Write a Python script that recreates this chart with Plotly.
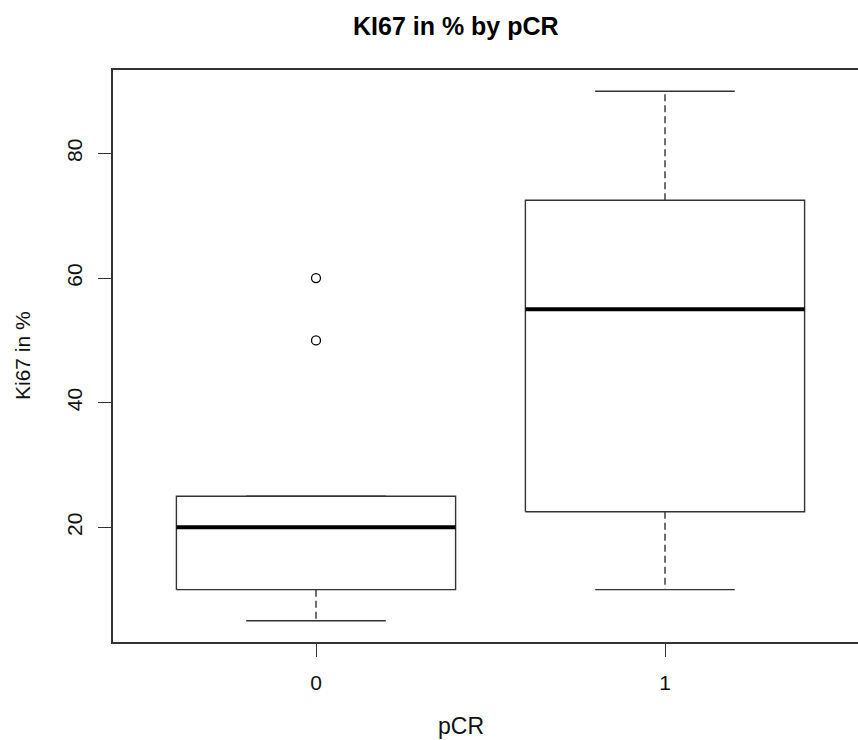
import plotly.graph_objects as go

# ---- data ----
groups = ["0", "1"]
positions = [1, 2]
lower_whisker = [5, 10]
q1 = [10, 22.5]
median = [20, 55]
q3 = [25, 72.5]
upper_whisker = [25, 90]
outlier_group = [1, 1]
outlier_values = [50, 60]
y_ticks = [20, 40, 60, 80]

BOX_HALF = 0.4
CAP_HALF = 0.2
LINE_COL = "#333333"

fig = go.Figure()

for i, c in enumerate(positions):
    # box
    fig.add_trace(go.Scatter(
        x=[c - BOX_HALF, c + BOX_HALF, c + BOX_HALF, c - BOX_HALF, c - BOX_HALF],
        y=[q1[i], q1[i], q3[i], q3[i], q1[i]],
        mode="lines", line=dict(color=LINE_COL, width=1.4),
        hoverinfo="skip", showlegend=False))
    # median
    fig.add_trace(go.Scatter(
        x=[c - BOX_HALF, c + BOX_HALF], y=[median[i], median[i]],
        mode="lines", line=dict(color="black", width=4),
        hoverinfo="skip", showlegend=False))
    # whiskers (dashed)
    for a, b in ((q1[i], lower_whisker[i]), (q3[i], upper_whisker[i])):
        fig.add_trace(go.Scatter(
            x=[c, c], y=[a, b], mode="lines",
            line=dict(color=LINE_COL, width=1.4, dash="7px,4px"),
            hoverinfo="skip", showlegend=False))
    # caps
    for v in (lower_whisker[i], upper_whisker[i]):
        fig.add_trace(go.Scatter(
            x=[c - CAP_HALF, c + CAP_HALF], y=[v, v], mode="lines",
            line=dict(color=LINE_COL, width=1.4),
            hoverinfo="skip", showlegend=False))

# outliers
fig.add_trace(go.Scatter(
    x=outlier_group, y=outlier_values, mode="markers",
    marker=dict(symbol="circle-open", size=9, color="black", line=dict(width=1.3)),
    hoverinfo="skip", showlegend=False))

PLOT_L, PLOT_T, PLOT_B = 113, 70, 642
W, H = 858, 740
px_per_unit = 349.0
x0 = 1 - (316 - PLOT_L) / px_per_unit
x1 = x0 + (W - PLOT_L) / px_per_unit

fig.update_layout(
    width=W, height=H,
    margin=dict(l=PLOT_L, r=0, t=PLOT_T, b=H - PLOT_B),
    plot_bgcolor="white", paper_bgcolor="white",
    font=dict(family="Liberation Sans, Arial, sans-serif", color="#111111"),
    xaxis=dict(
        range=[x0, x1], tickvals=positions, ticktext=groups,
        showgrid=False, zeroline=False,
        showline=True, mirror=True, linecolor=LINE_COL, linewidth=1.5,
        ticks="outside", ticklen=13, tickwidth=1.3, tickcolor=LINE_COL,
        tickfont=dict(size=21), ticklabelstandoff=8),
    yaxis=dict(
        range=[1.6, 93.4], tickvals=y_ticks,
        showgrid=False, zeroline=False,
        showline=True, mirror=False, linecolor=LINE_COL, linewidth=1.5,
        ticks="outside", ticklen=13, tickwidth=1.3, tickcolor=LINE_COL,
        tickangle=-90, tickfont=dict(size=21), ticklabelstandoff=8),
    annotations=[
        dict(text="<b>KI67 in % by pCR</b>", xref="paper", yref="paper",
             x=(456 - PLOT_L) / (W - PLOT_L), y=1 + (PLOT_T - 26) / (PLOT_B - PLOT_T),
             xanchor="center", yanchor="middle", showarrow=False,
             font=dict(family="Liberation Sans Narrow, Arial Narrow, Liberation Sans, Arial", size=25, color="black")),
        dict(text="pCR", xref="paper", yref="paper",
             x=(461 - PLOT_L) / (W - PLOT_L), y=-(726 - PLOT_B) / (PLOT_B - PLOT_T),
             xanchor="center", yanchor="middle", showarrow=False,
             font=dict(size=23, color="#111111")),
        dict(text="Ki67 in %", xref="paper", yref="paper", textangle=-90,
             x=-(PLOT_L - 22) / (W - PLOT_L), y=0.5,
             xanchor="center", yanchor="middle", showarrow=False,
             font=dict(size=21, color="#111111")),
    ],
)

fig.write_html("out.html")
